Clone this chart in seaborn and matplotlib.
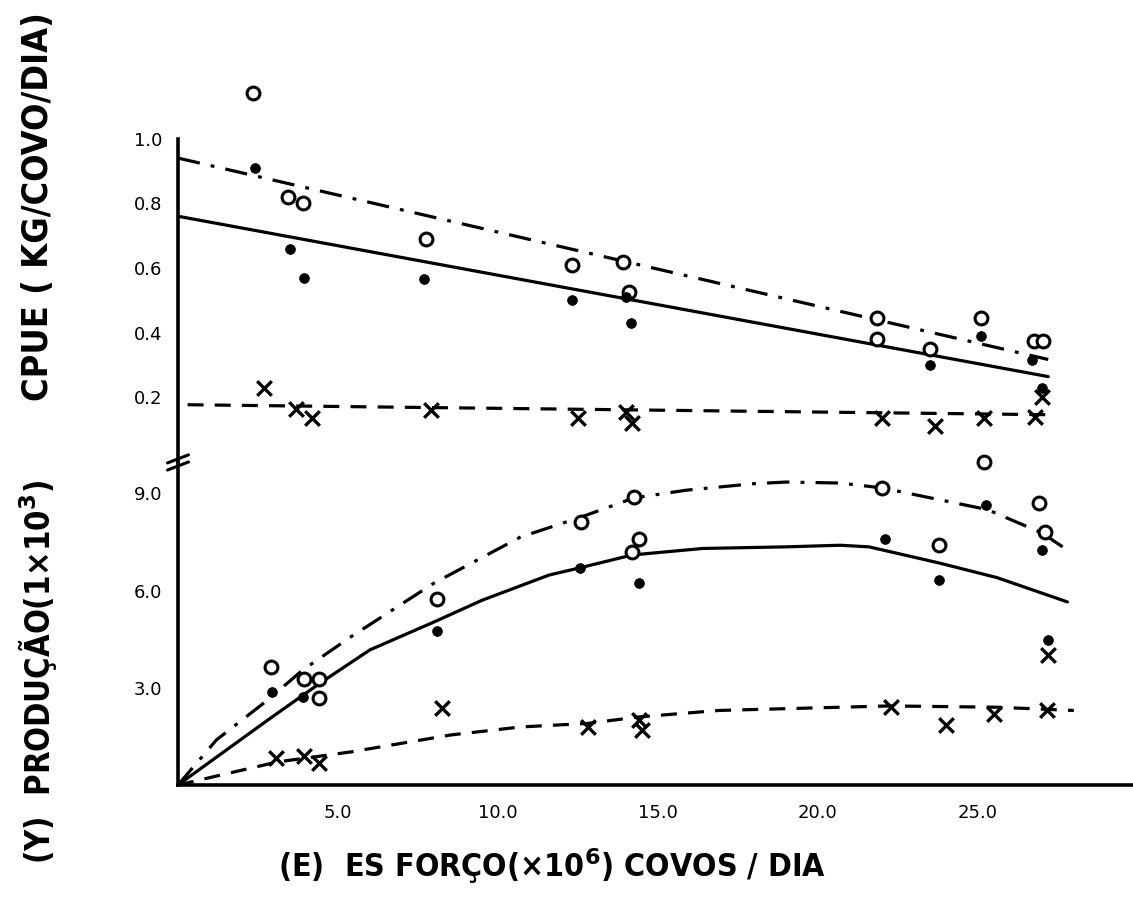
import matplotlib
matplotlib.use("Agg")
import matplotlib.pyplot as plt
import seaborn as sns
from matplotlib import font_manager

# ---------------- data ----------------
# upper panel: CPUE (kg/covo/dia) vs effort
cpue_open_x = [2.35, 3.45, 3.9, 7.75, 12.3, 13.9, 14.1, 21.85, 21.85, 23.5, 25.1, 26.75, 27.05]
cpue_open_y = [1.14, 0.82, 0.80, 0.69, 0.61, 0.62, 0.525, 0.445, 0.38, 0.35, 0.445, 0.375, 0.375]
cpue_dot_x = [2.4, 3.5, 3.95, 7.7, 12.3, 14.0, 14.15, 23.5, 25.1, 26.7, 27.0]
cpue_dot_y = [0.91, 0.66, 0.57, 0.565, 0.50, 0.51, 0.43, 0.30, 0.39, 0.315, 0.23]
cpue_cross_x = [2.7, 3.7, 4.2, 7.9, 12.5, 14.0, 14.2, 22.0, 23.65, 25.2, 26.8, 27.0]
cpue_cross_y = [0.23, 0.165, 0.135, 0.16, 0.135, 0.155, 0.12, 0.135, 0.11, 0.135, 0.14, 0.20]

cpue_fit_open_x = [0.0, 27.2]
cpue_fit_open_y = [0.94, 0.317]
cpue_fit_dot_x = [0.0, 27.2]
cpue_fit_dot_y = [0.76, 0.264]
cpue_fit_cross_x = [0.3, 27.35]
cpue_fit_cross_y = [0.177, 0.146]

# lower panel: production (x10^3) vs effort
prod_open_x = [2.9, 3.95, 4.4, 4.4, 8.1, 12.6, 14.25, 14.4, 14.2, 22.0, 23.8, 25.2, 26.9, 27.1]
prod_open_y = [3.64, 3.27, 3.27, 2.68, 5.74, 8.12, 8.9, 7.6, 7.2, 9.17, 7.4, 9.97, 8.7, 7.8]
prod_dot_x = [2.95, 3.9, 8.1, 12.55, 14.4, 22.1, 23.8, 25.25, 27.0, 27.2]
prod_dot_y = [2.87, 2.72, 4.75, 6.7, 6.23, 7.6, 6.33, 8.64, 7.25, 4.47]
prod_cross_x = [3.05, 3.95, 4.4, 8.25, 12.8, 14.4, 14.5, 22.3, 24.0, 25.5, 27.15, 27.2]
prod_cross_y = [0.83, 0.9, 0.68, 2.38, 1.8, 2.0, 1.7, 2.4, 1.85, 2.2, 2.3, 4.0]

prod_curve_open_x = [0, 1.2, 2.8, 3.9, 5.4, 8.0, 10.7, 12.6, 14.25, 15.9, 18.0, 19.0, 20.7, 22.0, 25.3, 27.0, 27.65]
prod_curve_open_y = [0, 1.39, 2.62, 3.55, 4.57, 6.23, 7.65, 8.27, 8.86, 9.1, 9.3, 9.35, 9.32, 9.17, 8.5, 7.78, 7.35]
prod_curve_dot_x = [0, 2.9, 4.45, 6.0, 8.0, 9.5, 11.6, 12.55, 14.2, 16.4, 19.0, 20.7, 21.6, 23.8, 25.6, 27.8]
prod_curve_dot_y = [0, 2.07, 3.15, 4.17, 5.03, 5.7, 6.48, 6.7, 7.1, 7.3, 7.35, 7.4, 7.35, 6.85, 6.4, 5.65]
prod_curve_cross_x = [0, 3.1, 5.4, 8.5, 10.7, 12.8, 14.4, 16.9, 20.7, 22.25, 25.6, 28.0]
prod_curve_cross_y = [0, 0.71, 1.02, 1.54, 1.79, 1.9, 2.1, 2.3, 2.4, 2.44, 2.4, 2.3]

x_ticks = [5.0, 10.0, 15.0, 20.0, 25.0]
x_ticklabels = ["5.0", "10.0", "15.0", "20.0", "25.0"]
cpue_ticks = [0.2, 0.4, 0.6, 0.8, 1.0]
cpue_ticklabels = ["0.2", "0.4", "0.6", "0.8", "1.0"]
prod_ticks = [3.0, 6.0, 9.0]
prod_ticklabels = ["3.0", "6.0", "9.0"]

label_cpue = "CPUE ( KG/COVO/DIA)"
label_prod = r"(Y)  PRODUÇÃO(1×10$^{\mathbf{3}}$)"
label_effort = r"(E)  ES FORÇO(×10$^{\mathbf{6}}$) COVOS / DIA"

# ---------------- style ----------------
sns.set_theme(style="white")
big_font, big_stretch = "Liberation Sans", "normal"
for f in font_manager.fontManager.ttflist:
    if ("Narrow" in f.name or "Condensed" in f.name
            or f.stretch in ("condensed", "semi-condensed", "extra-condensed")):
        big_font, big_stretch = f.name, f.stretch
        break
plt.rcParams["font.family"] = ["DejaVu Sans"]
plt.rcParams["mathtext.fontset"] = "custom"
plt.rcParams["mathtext.rm"] = big_font
plt.rcParams["mathtext.bf"] = big_font + ":bold"

fig = plt.figure(figsize=(11.33, 9.0), dpi=100)
XMAX = 29.85
ax_up = fig.add_axes([0.1571, 0.4867, 0.8429, 0.4311])
ax_lo = fig.add_axes([0.1571, 0.1278, 0.8429, 0.3589])

LW = 2.3
dash = (0, (5, 3.5))
dashdot = (0, (7, 3.5, 1.2, 3.5))

def draw_series(ax, ox, oy, dx, dy, cx, cy):
    sns.scatterplot(x=ox, y=oy, ax=ax, marker="o", s=85, facecolor="white",
                    edgecolor="black", linewidth=2.2, zorder=5, clip_on=False)
    sns.scatterplot(x=dx, y=dy, ax=ax, marker="o", s=50, color="black",
                    edgecolor="black", linewidth=0.5, zorder=6, clip_on=False)
    sns.scatterplot(x=cx, y=cy, ax=ax, marker="x", s=110, color="black",
                    linewidth=2.4, zorder=6, clip_on=False)

# upper panel
sns.lineplot(x=cpue_fit_open_x, y=cpue_fit_open_y, ax=ax_up, color="black", lw=LW,
             linestyle=dashdot, estimator=None, sort=False)
sns.lineplot(x=cpue_fit_dot_x, y=cpue_fit_dot_y, ax=ax_up, color="black", lw=LW,
             estimator=None, sort=False)
sns.lineplot(x=cpue_fit_cross_x, y=cpue_fit_cross_y, ax=ax_up, color="black", lw=LW,
             linestyle=dash, estimator=None, sort=False)
draw_series(ax_up, cpue_open_x, cpue_open_y, cpue_dot_x, cpue_dot_y, cpue_cross_x, cpue_cross_y)

# lower panel
sns.lineplot(x=prod_curve_open_x, y=prod_curve_open_y, ax=ax_lo, color="black", lw=LW,
             linestyle=dashdot, estimator=None, sort=False)
sns.lineplot(x=prod_curve_dot_x, y=prod_curve_dot_y, ax=ax_lo, color="black", lw=LW,
             estimator=None, sort=False)
sns.lineplot(x=prod_curve_cross_x, y=prod_curve_cross_y, ax=ax_lo, color="black", lw=LW,
             linestyle=dash, estimator=None, sort=False)
draw_series(ax_lo, prod_open_x, prod_open_y, prod_dot_x, prod_dot_y, prod_cross_x, prod_cross_y)

# axes limits / spines
ax_up.set_xlim(0, XMAX)
ax_up.set_ylim(0, 1.2)
ax_lo.set_xlim(0, XMAX)
ax_lo.set_ylim(0, 9.97)

for ax in (ax_up, ax_lo):
    ax.set_facecolor("none")
    ax.spines["top"].set_visible(False)
    ax.spines["right"].set_visible(False)
    ax.spines["left"].set_linewidth(2.6)
    ax.spines["left"].set_color("black")
    ax.set_xlabel("")
    ax.set_ylabel("")
    ax.tick_params(axis="both", direction="inout", length=11, width=2.2,
                   colors="black", labelsize=13, pad=6)

ax_up.spines["bottom"].set_visible(False)
ax_up.spines["left"].set_bounds(0, 1.0)
ax_up.set_xticks([])
ax_up.set_yticks(cpue_ticks)
ax_up.set_yticklabels(cpue_ticklabels)

ax_lo.spines["bottom"].set_linewidth(2.6)
ax_lo.spines["bottom"].set_color("black")
ax_lo.set_xticks(x_ticks)
ax_lo.set_xticklabels(x_ticklabels)
ax_lo.set_yticks(prod_ticks)
ax_lo.set_yticklabels(prod_ticklabels)
ax_lo.tick_params(axis="x", pad=8)

# axis-break mark on the y axis
for dy in (0.0, 0.022):
    ax_lo.plot([-0.011, 0.011], [0.975 + dy, 1.0 + dy], transform=ax_lo.transAxes,
               color="black", lw=2.2, clip_on=False, zorder=7)

# big hand-lettered labels, sized to the lengths they have in the reference
big = dict(family=big_font, fontstretch=big_stretch, fontweight="bold",
           color="black", ha="center", va="center")
t_cpue = fig.text(38 / 1133, 1 - 207 / 900, label_cpue, rotation=90, fontsize=30, **big)
t_prod = fig.text(38 / 1133, 1 - 672 / 900, label_prod, rotation=90, fontsize=30, **big)
t_eff = fig.text(552 / 1133, 1 - 866 / 900, label_effort, fontsize=30, **big)

fig.canvas.draw()
r = fig.canvas.get_renderer()
for t, target, vertical in ((t_cpue, 387, True), (t_prod, 383, True), (t_eff, 547, False)):
    bb = t.get_window_extent(renderer=r)
    length = bb.height if vertical else bb.width
    t.set_fontsize(t.get_fontsize() * target / length)

fig.savefig("out.png", dpi=100, facecolor="white")
